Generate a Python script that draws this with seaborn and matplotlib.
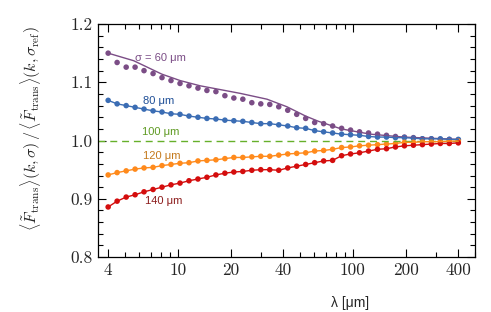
import numpy as np
import pandas as pd
import matplotlib
matplotlib.use("Agg")
import matplotlib.pyplot as plt
import seaborn as sns
from matplotlib.ticker import FixedLocator, NullFormatter

# wavelength grid of the measured points [um]
lam = [4.0, 4.50, 5.07, 5.70, 6.41, 7.22, 8.12, 9.14, 10.29, 11.58,
       13.03, 14.66, 16.50, 18.57, 20.89, 23.51, 26.46, 29.77, 33.51, 37.70,
       42.43, 47.75, 53.73, 60.47, 68.04, 76.57, 86.17, 96.96, 109.1, 122.8,
       138.2, 155.5, 175.0, 196.9, 221.6, 249.4, 280.6, 315.8, 355.4, 400.0]

ratio_60 = [1.150, 1.134, 1.126, 1.126, 1.120, 1.115, 1.108, 1.103, 1.098, 1.094,
            1.090, 1.086, 1.084, 1.077, 1.073, 1.071, 1.065, 1.063, 1.062, 1.058,
            1.052, 1.045, 1.038, 1.031, 1.029, 1.025, 1.021, 1.018, 1.015, 1.013,
            1.011, 1.009, 1.007, 1.006, 1.005, 1.003, 1.003, 1.002, 1.002, 1.001]
ratio_80 = [1.069, 1.063, 1.060, 1.057, 1.054, 1.051, 1.049, 1.046, 1.045, 1.042,
            1.040, 1.038, 1.037, 1.035, 1.034, 1.033, 1.031, 1.029, 1.029, 1.027,
            1.025, 1.022, 1.021, 1.017, 1.015, 1.013, 1.011, 1.010, 1.009, 1.007,
            1.006, 1.006, 1.005, 1.005, 1.004, 1.003, 1.003, 1.003, 1.002, 1.002]
ratio_120 = [0.941, 0.945, 0.948, 0.951, 0.953, 0.954, 0.957, 0.959, 0.961, 0.962,
             0.965, 0.966, 0.967, 0.969, 0.971, 0.971, 0.972, 0.973, 0.973, 0.975,
             0.977, 0.978, 0.979, 0.982, 0.983, 0.985, 0.988, 0.989, 0.991, 0.992,
             0.993, 0.994, 0.995, 0.997, 0.997, 0.998, 0.998, 0.998, 0.999, 0.999]
ratio_140 = [0.886, 0.896, 0.903, 0.907, 0.912, 0.916, 0.920, 0.924, 0.927, 0.931,
             0.934, 0.937, 0.941, 0.944, 0.946, 0.947, 0.949, 0.950, 0.950, 0.949,
             0.953, 0.956, 0.959, 0.962, 0.965, 0.966, 0.974, 0.977, 0.979, 0.982,
             0.985, 0.986, 0.989, 0.991, 0.992, 0.993, 0.994, 0.995, 0.995, 0.996]

# smooth model curve for sigma = 60 um
model_lam_60 = [4, 5.6, 8.1, 10.3, 13.4, 17.1, 22.7, 32.3, 42, 53.7, 63.6, 85.8, 125.6, 194.7, 400]
model_60 = [1.150, 1.137, 1.114, 1.103, 1.094, 1.088, 1.081, 1.071, 1.058, 1.042,
            1.033, 1.020, 1.011, 1.006, 1.002]

# reference sigma = 100 um
ref_lam = [3.5, 400]
ref_val = [1.0, 1.0]

labels = ["σ = 60 μm", "80 μm", "100 μm", "120 μm", "140 μm"]
label_lam = [5.7, 6.3, 6.25, 6.3, 6.5]
label_val = [1.141, 1.068, 1.015, 0.973, 0.897]

xtick_vals = [4, 10, 20, 40, 100, 200, 400]
xminor_vals = [5, 6, 7, 8, 9, 30, 50, 60, 70, 80, 90, 300, 500]
ytick_vals = [0.8, 0.9, 1.0, 1.1, 1.2]

line_cols = {"60": "#7b4d86", "80": "#3b6db4", "120": "#ff8a1c", "140": "#d40d0d"}
text_cols = ["#7b4d86", "#1f4f97", "#5e9a22", "#c4791c", "#8c1c1c"]

sns.set_theme(style="ticks")
plt.rcParams["font.family"] = ["Liberation Sans", "DejaVu Sans"]
plt.rcParams["mathtext.fontset"] = "cm"

df = pd.DataFrame({
    "lam": lam * 4,
    "ratio": ratio_60 + ratio_80 + ratio_120 + ratio_140,
    "sigma": ["60"] * len(lam) + ["80"] * len(lam) + ["120"] * len(lam) + ["140"] * len(lam),
})

fig = plt.figure(figsize=(4.91, 3.12), dpi=100)
ax = fig.add_axes([0.1996, 0.176, 0.7684, 0.747])

sns.lineplot(x=ref_lam, y=ref_val, ax=ax, color="#66b02a", lw=1.0,
             linestyle=(0, (5, 3.5)))
sns.lineplot(x=model_lam_60, y=model_60, ax=ax, color=line_cols["60"], lw=1.0)
for s in ["80", "120", "140"]:
    sub = df[df["sigma"] == s]
    sns.lineplot(data=sub, x="lam", y="ratio", ax=ax, color=line_cols[s], lw=1.0)
sns.scatterplot(data=df, x="lam", y="ratio", hue="sigma", palette=line_cols,
                s=16, linewidth=0, ax=ax, legend=False)

for t, lx, ly, c in zip(labels, label_lam, label_val, text_cols):
    ax.text(lx, ly, t, color=c, fontsize=8, ha="left", va="center")

ax.set_xscale("log")
ax.set_xlim(3.5, 500)
ax.set_ylim(0.8, 1.2)
ax.xaxis.set_major_locator(FixedLocator(xtick_vals))
ax.xaxis.set_minor_locator(FixedLocator(xminor_vals))
ax.xaxis.set_minor_formatter(NullFormatter())
ax.set_xticks(xtick_vals)
ax.set_xticklabels([str(v) for v in xtick_vals])
ax.set_yticks(ytick_vals)
ax.set_yticklabels([f"{v:.1f}" for v in ytick_vals])
ax.yaxis.set_minor_locator(FixedLocator(np.arange(0.8, 1.2001, 0.02)))

ax.tick_params(which="both", direction="in", top=True, right=True, width=0.8,
               color="black")
ax.tick_params(which="major", length=6, labelsize=12.5, labelfontfamily="cmr10",
               pad=4)
ax.tick_params(which="minor", length=3.5)
for sp in ax.spines.values():
    sp.set_color("black")
    sp.set_linewidth(0.9)

ax.set_xlabel("λ [μm]", fontsize=10)
ax.xaxis.set_label_coords(0.668, -0.165)
ax.set_ylabel(r"$\langle\tilde{F}_{\rm trans}\rangle(k,\sigma)\,/\,\langle\tilde{F}_{\rm trans}\rangle(k,\sigma_{\rm ref})$",
              fontsize=11.5)
ax.yaxis.set_label_coords(-0.145, 0.55)

fig.savefig("out.png", dpi=100)
